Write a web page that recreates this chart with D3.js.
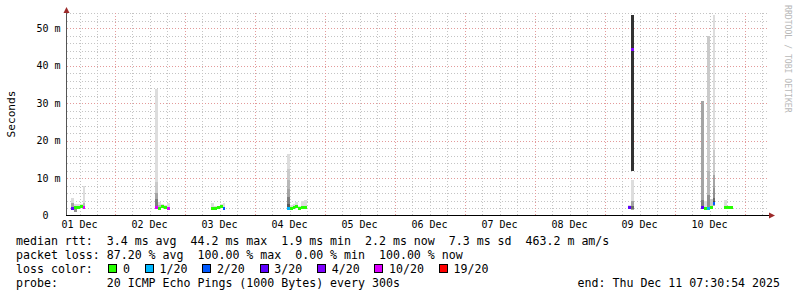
<!DOCTYPE html>
<html>
<head>
<meta charset="utf-8">
<script src="https://cdn.jsdelivr.net/npm/d3@7/dist/d3.min.js"></script>
<style>
  html, body { margin: 0; padding: 0; background: #fff; }
  svg { display: block; }
  text { font-family: 'DejaVu Sans Mono', monospace; fill: #000; }
</style>
</head>
<body>
<div id="chart"></div>
<script>
// smokeping samples, 1 hour each (UTC)
const sampleTimes = [
  '2025-12-01T09:00', '2025-12-01T10:00', '2025-12-01T11:00', '2025-12-01T12:00', '2025-12-01T13:00',
  '2025-12-02T14:00', '2025-12-02T15:00', '2025-12-02T16:00', '2025-12-02T17:00', '2025-12-02T18:00',
  '2025-12-03T09:00', '2025-12-03T10:00', '2025-12-03T11:00', '2025-12-03T12:00', '2025-12-03T13:00',
  '2025-12-04T11:00', '2025-12-04T12:00', '2025-12-04T13:00', '2025-12-04T14:00', '2025-12-04T15:00',
  '2025-12-04T16:00', '2025-12-04T17:00',
  '2025-12-09T08:00', '2025-12-09T09:00',
  '2025-12-10T09:00', '2025-12-10T10:00', '2025-12-10T11:00', '2025-12-10T12:00', '2025-12-10T13:00',
  '2025-12-10T17:00', '2025-12-10T18:00', '2025-12-10T19:00'
]
// median rtt, ms
const medians = [
  2.0, 2.1, 2.2, 2.3, 2.1,
  2.1, 2.0, 2.4, 2.1, 2.0,
  2.0, 2.0, 2.1, 2.4, 2.0,
  1.9, 2.0, 2.1, 2.3, 1.8, 2.2, 2.1,
  2.2, 44.4,
  2.1, 2.0, 2.0, 2.1, 3.1,
  2.2, 2.2, 2.2
]
// lost pings out of 20
const losses = [
  3, 0, 0, 0, 10,
  10, 0, 0, 0, 10,
  0, 0, 0, 0, 2,
  1, 0, 0, 0, 0, 0, 0,
  3, 4,
  3, 0, 1, 0, 2,
  0, 0, 0
]
// smoke bands: [low ms, high ms, ping pair rank (0 = outermost)]
const smoke = [
  [[1.5, 4.8, 0], [1.7, 3.4, 3]],
  [[0.9, 3.0, 0], [1.0, 2.4, 4]],
  [[1.9, 3.1, 0]],
  [[1.9, 3.0, 0]],
  [[1.8, 7.8, 0], [1.9, 3.4, 2]],
  [[1.9, 33.7, 0], [2.0, 9.0, 1], [2.0, 6.0, 3], [2.0, 4.3, 5]],
  [[1.9, 3.5, 0], [1.9, 2.8, 2]],
  [[2.0, 3.1, 0]],
  [[1.9, 2.9, 0]],
  [[1.9, 3.4, 0]],
  [[1.9, 3.3, 0]],
  [[1.9, 2.6, 0]],
  [[1.9, 2.5, 0]],
  [[2.0, 3.0, 0]],
  [[1.9, 3.3, 0]],
  [[1.8, 16.3, 0], [1.8, 12.5, 1], [1.9, 9.5, 2], [1.9, 7.0, 3], [1.9, 5.0, 5], [2.0, 3.2, 7]],
  [[1.9, 2.7, 0]],
  [[1.9, 3.2, 0]],
  [[1.9, 3.6, 0]],
  [[1.7, 2.6, 0]],
  [[1.9, 4.0, 0]],
  [[1.9, 4.2, 0]],
  [[1.8, 2.8, 0]],
  [[1.4, 9.4, 0], [1.5, 4.0, 3], [1.6, 2.6, 6], [12.0, 53.4, 9]],
  [[2.0, 30.5, 3], [2.0, 4.2, 5]],
  [[1.9, 4.0, 0]],
  [[2.0, 47.9, 1], [2.0, 11.8, 2], [2.1, 5.5, 4]],
  [[1.9, 4.3, 1]],
  [[2.5, 53.5, 0], [2.5, 17.4, 1], [2.6, 10.8, 3], [2.7, 7.3, 4], [2.8, 4.6, 6], [2.9, 3.8, 8]],
  [[1.9, 4.1, 0]],
  [[2.0, 2.6, 0]],
  [[2.0, 2.5, 0]]
]

const yTicks = [0, 10, 20, 30, 40, 50]
const yTickLabels = ['0  ', '10 m', '20 m', '30 m', '40 m', '50 m']
const dayLabels = ['01 Dec', '02 Dec', '03 Dec', '04 Dec', '05 Dec', '06 Dec', '07 Dec', '08 Dec', '09 Dec', '10 Dec']

const lossLevels = [0, 1, 2, 3, 4, 10, 19]
const lossNames = ['0', '1/20', '2/20', '3/20', '4/20', '10/20', '19/20']
const lossColors = ['#26ff00', '#00b8ff', '#0059ff', '#5e00ff', '#7e00ff', '#dd00ff', '#ff0000']

const statLines = [
  'median rtt:  3.4 ms avg  44.2 ms max  1.9 ms min  2.2 ms now  7.3 ms sd  463.2 m am/s',
  'packet loss: 87.20 % avg  100.00 % max  0.00 % min  100.00 % now'
]
const probeLine = 'probe:       20 ICMP Echo Pings (1000 Bytes) every 300s'
const endLine = 'end: Thu Dec 11 07:30:54 2025'

const width = 797
const height = 297
const plot = { left: 67, right: 767, top: 13, bottom: 215.5 }
const charW = 7.0

const parse = d3.utcParse('%Y-%m-%dT%H:%M')
const startT = new Date(Date.UTC(2025, 11, 1, 7, 41))
const endT = new Date(Date.UTC(2025, 11, 11, 7, 41))

const x = d3.scaleUtc().domain([startT, endT]).range([plot.left, plot.right])
const y = d3.scaleLinear().domain([0, 54]).range([plot.bottom, plot.top])
const lossColor = d3.scaleThreshold().domain(lossLevels.slice(1)).range(lossColors)
// smokeping shading: outer ping pairs light, inner ones dark
const smokeGray = rank => {
  const g = Math.round(190 / 10 * (10 - (rank + 1)) + 50)
  return d3.rgb(g, g, g).formatHex()
}

const svg = d3.select('#chart').append('svg')
  .attr('width', width)
  .attr('height', height)

svg.append('rect').attr('width', width).attr('height', height).attr('fill', '#fff')

// grid
const grid = svg.append('g').attr('shape-rendering', 'crispEdges')
const minorX = d3.utcHour.every(6).range(startT, endT).filter(d => d.getUTCHours() !== 0)
const majorX = d3.utcDay.range(startT, endT)
const minorY = d3.range(2, 54.01, 2).filter(v => v % 10 !== 0)
const majorY = d3.range(10, 54, 10)

grid.selectAll('.vmin').data(minorX).enter().append('line')
  .attr('x1', d => Math.round(x(d)) + 0.5).attr('x2', d => Math.round(x(d)) + 0.5)
  .attr('y1', plot.top).attr('y2', plot.bottom)
  .attr('stroke', '#c4c4c4').attr('stroke-dasharray', '1,2')
grid.selectAll('.hmin').data(minorY).enter().append('line')
  .attr('x1', plot.left).attr('x2', plot.right + 1)
  .attr('y1', d => Math.round(y(d)) + 0.5).attr('y2', d => Math.round(y(d)) + 0.5)
  .attr('stroke', '#c4c4c4').attr('stroke-dasharray', '1,2')
grid.selectAll('.vmaj').data(majorX).enter().append('line')
  .attr('x1', d => Math.round(x(d)) + 0.5).attr('x2', d => Math.round(x(d)) + 0.5)
  .attr('y1', plot.top).attr('y2', plot.bottom)
  .attr('stroke', '#e39a9a').attr('stroke-dasharray', '1,2')
grid.selectAll('.hmaj').data(majorY).enter().append('line')
  .attr('x1', plot.left).attr('x2', plot.right + 1)
  .attr('y1', d => Math.round(y(d)) + 0.5).attr('y2', d => Math.round(y(d)) + 0.5)
  .attr('stroke', '#e39a9a').attr('stroke-dasharray', '1,2')

// data
const samples = sampleTimes.map((t, i) => {
  const t0 = parse(t)
  return {
    x0: Math.round(x(t0)),
    x1: Math.round(x(d3.utcHour.offset(t0, 1))),
    median: medians[i],
    loss: losses[i],
    bands: smoke[i].slice().sort((a, b) => a[2] - b[2])
  }
})

const data = svg.append('g').attr('shape-rendering', 'crispEdges')
const sample = data.selectAll('.sample').data(samples).enter().append('g').attr('class', 'sample')

sample.selectAll('rect.smoke')
  .data(d => d.bands.map(b => ({ x0: d.x0, x1: d.x1, lo: b[0], hi: b[1], rank: b[2] })))
  .enter().append('rect')
  .attr('class', 'smoke')
  .attr('x', d => d.x0)
  .attr('width', d => d.x1 - d.x0)
  .attr('y', d => Math.round(y(d.hi)))
  .attr('height', d => Math.max(1, Math.round(y(d.lo)) - Math.round(y(d.hi))))
  .attr('fill', d => smokeGray(d.rank))

sample.append('rect')
  .attr('class', 'median')
  .attr('x', d => d.x0)
  .attr('width', d => d.x1 - d.x0)
  .attr('y', d => Math.round(y(d.median) - 1.5))
  .attr('height', 3)
  .attr('fill', d => lossColor(d.loss))

// axes
const axes = svg.append('g').attr('shape-rendering', 'crispEdges')
axes.append('line')
  .attr('x1', plot.left - 0.5).attr('x2', plot.left - 0.5)
  .attr('y1', plot.top - 2).attr('y2', plot.bottom)
  .attr('stroke', '#555')
axes.append('line')
  .attr('x1', plot.left - 1).attr('x2', plot.right + 3)
  .attr('y1', plot.bottom).attr('y2', plot.bottom)
  .attr('stroke', '#000')
svg.append('path')
  .attr('d', `M${plot.left - 3.5},${plot.top}L${plot.left - 0.5},${plot.top - 6}L${plot.left + 2.5},${plot.top}Z`)
  .attr('fill', '#9c2a2a')
svg.append('path')
  .attr('d', `M${plot.right + 2},${plot.bottom - 3}L${plot.right + 8},${plot.bottom}L${plot.right + 2},${plot.bottom + 3}Z`)
  .attr('fill', '#9c2a2a')

// tick labels
svg.append('g').selectAll('text').data(yTicks).enter().append('text')
  .attr('x', 60.5)
  .attr('y', d => y(d) + 3.6)
  .attr('text-anchor', 'end')
  .style('white-space', 'pre')
  .attr('font-size', 10)
  .attr('fill', '#222')
  .text((d, i) => yTickLabels[i])

const labelDays = d3.utcDay.range(new Date(Date.UTC(2025, 11, 1)), new Date(Date.UTC(2025, 11, 11)))
svg.append('g').selectAll('text').data(labelDays).enter().append('text')
  .attr('x', d => x(d3.utcHour.offset(d, 12)))
  .attr('y', 228)
  .attr('text-anchor', 'middle')
  .attr('font-size', 10)
  .attr('fill', '#222')
  .text((d, i) => dayLabels[i])

svg.append('text')
  .attr('transform', 'translate(15,114) rotate(-90)')
  .attr('text-anchor', 'middle')
  .attr('font-size', 11.2)
  .text('Seconds')

svg.append('text')
  .attr('transform', 'translate(784.5,5) rotate(90)')
  .attr('font-size', 8.15)
  .style('fill', '#b8b8b8')
  .text('RRDTOOL / TOBI OETIKER')

// legend
const legend = svg.append('g').attr('font-size', 11.6)
const baselines = [245, 258.8, 272.7, 286.5]
statLines.forEach((line, i) => {
  legend.append('text')
    .attr('x', 16).attr('y', baselines[i])
    .style('white-space', 'pre')
    .text(line)
})
legend.append('text')
  .attr('x', 16).attr('y', baselines[2])
  .text('loss color:')

let col = 13.2
const entries = lossNames.map((name, i) => {
  const e = { name, color: lossColors[i], col }
  col += 2.2 + name.length + 2
  return e
})
const entry = legend.selectAll('.entry').data(entries).enter().append('g').attr('class', 'entry')
entry.append('rect')
  .attr('x', d => Math.round(16 + d.col * charW) + 0.5)
  .attr('y', baselines[2] - 8.2)
  .attr('width', 8)
  .attr('height', 8)
  .attr('fill', d => d.color)
  .attr('stroke', '#000')
  .attr('shape-rendering', 'crispEdges')
entry.append('text')
  .attr('x', d => 16 + (d.col + 2.1) * charW)
  .attr('y', baselines[2])
  .text(d => d.name)

legend.append('text')
  .attr('x', 16).attr('y', baselines[3])
  .style('white-space', 'pre')
  .text(probeLine)
legend.append('text')
  .attr('x', 780).attr('y', baselines[3])
  .attr('text-anchor', 'end')
  .text(endLine)
</script>
</body>
</html>
